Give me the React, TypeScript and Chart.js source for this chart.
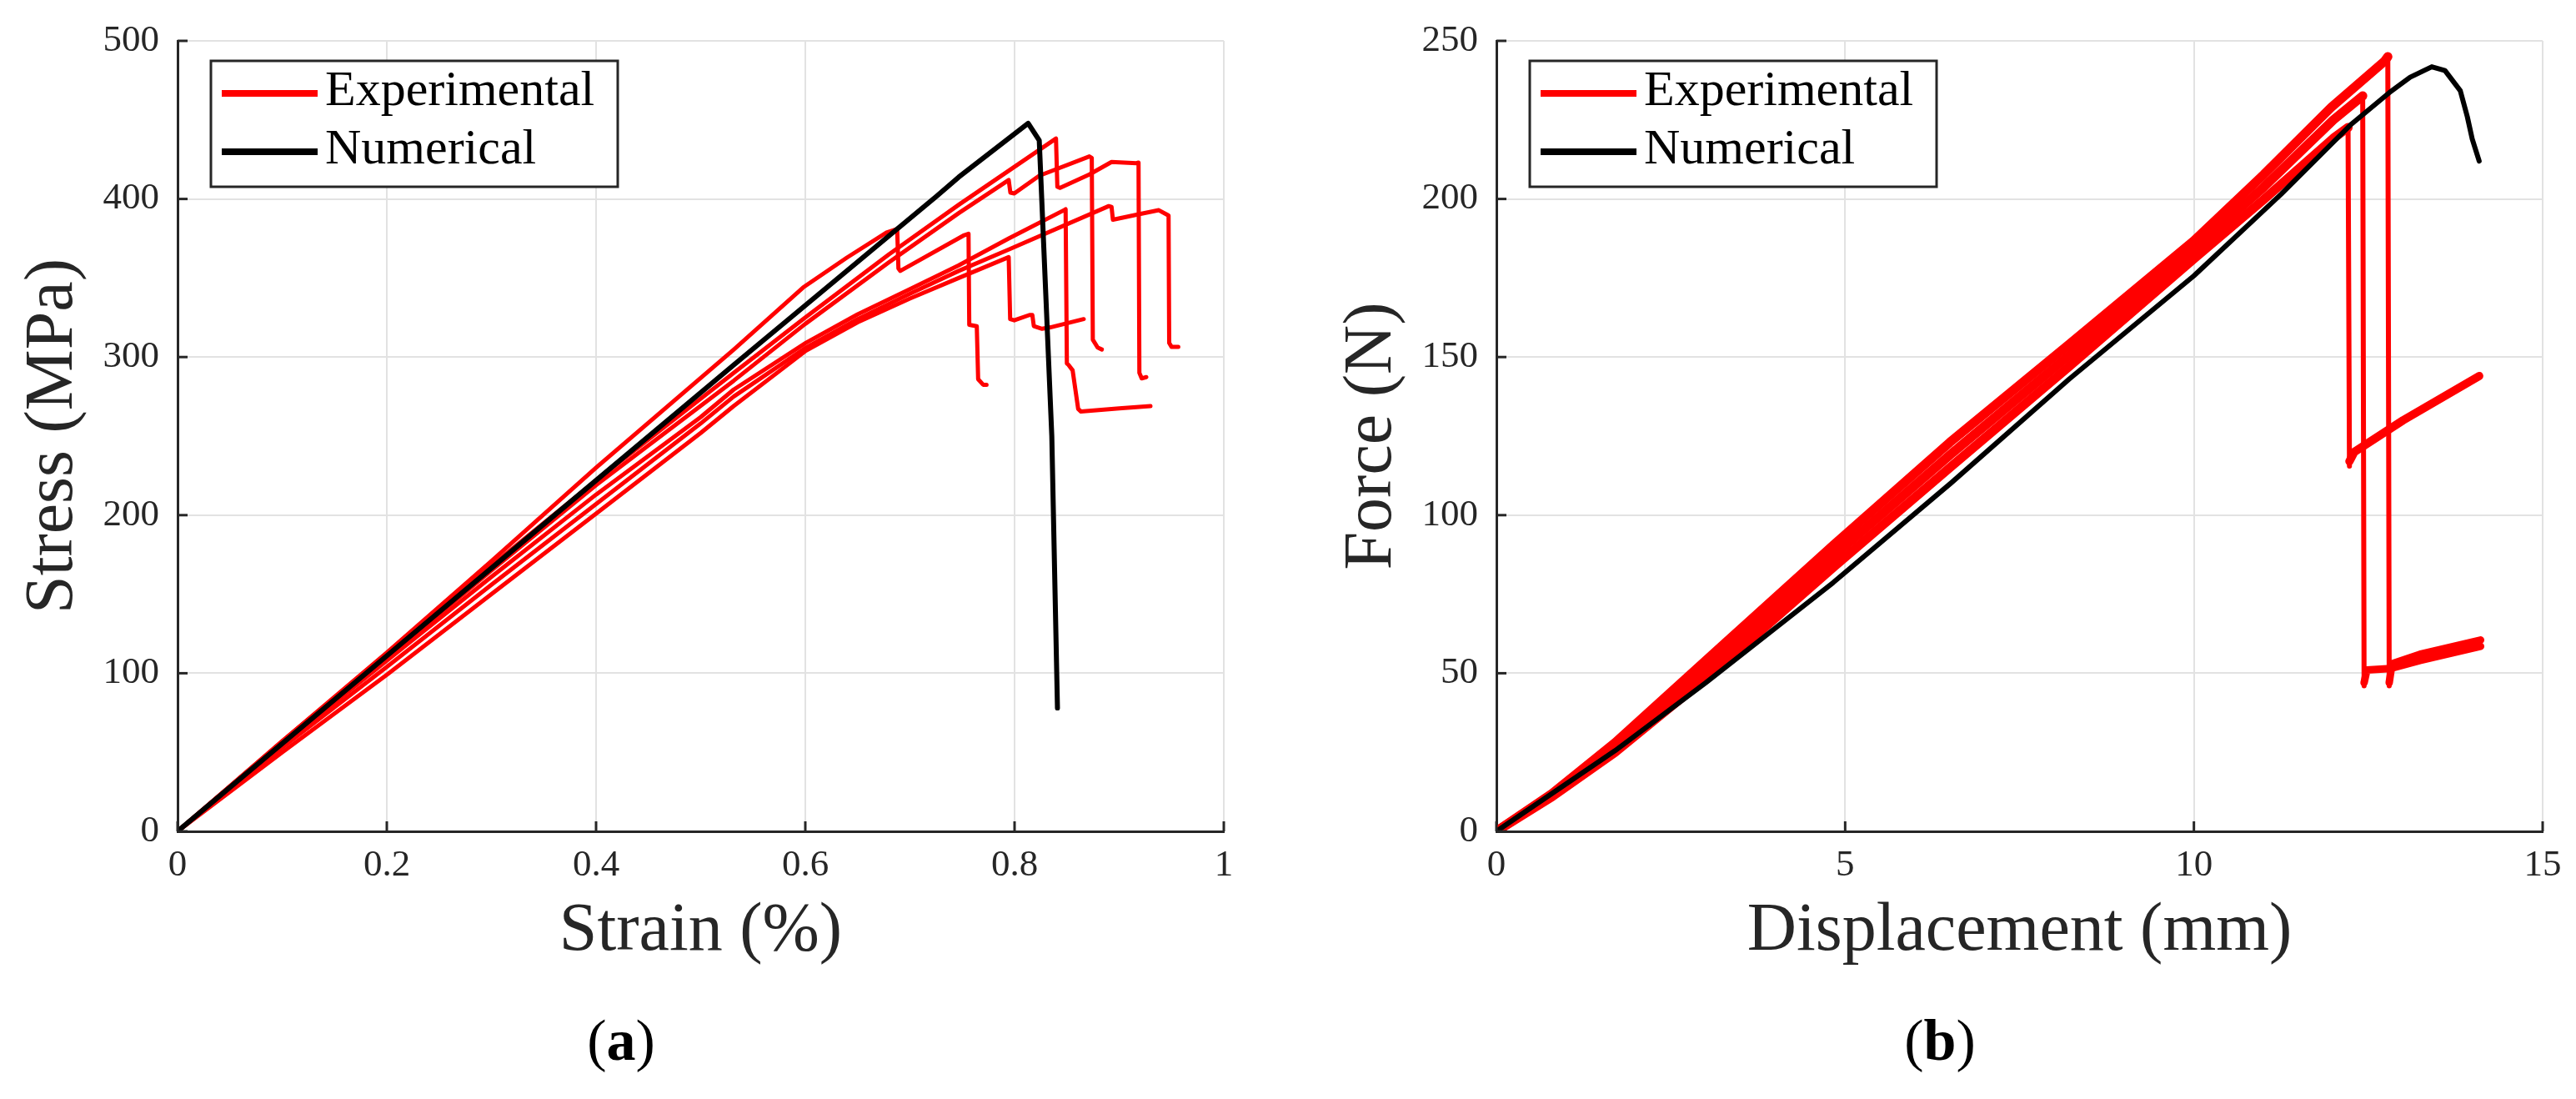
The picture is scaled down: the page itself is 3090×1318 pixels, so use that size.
import { useEffect, useRef } from "react";
import { Chart, registerables } from "chart.js";

Chart.register(...registerables);

// ---------------- (a) Stress vs strain ----------------
const strainTicks = [0, 0.2, 0.4, 0.6, 0.8, 1];
const stressTicks = [0, 100, 200, 300, 400, 500];

const strainNum = [0, 0.2, 0.4, 0.5315, 0.7253, 0.7466, 0.813, 0.8236, 0.8356, 0.841];
const stressNum = [0, 111, 222, 295, 401.6, 413.8, 447.8, 437, 250, 78];

const strainExpA = [0, 0.1, 0.2, 0.3, 0.4, 0.5315, 0.6, 0.68, 0.7466, 0.8396, 0.8409, 0.8436, 0.8715, 0.8927, 0.9166, 0.9185, 0.9193, 0.9215, 0.9259];
const stressExpA = [0, 57, 112, 168, 222, 290, 325, 365, 396.3, 438.2, 407.7, 407, 415.5, 423.4, 422.6, 423, 290, 286.5, 287.3];

const strainExpB = [0, 0.1, 0.2, 0.3, 0.4, 0.5315, 0.6, 0.68, 0.7466, 0.7944, 0.796, 0.7997, 0.8236, 0.8715, 0.8738, 0.8748, 0.8794, 0.8834];
const stressExpB = [0, 56, 110, 165, 219, 285, 321, 360, 391, 412, 404, 403.5, 414.7, 426.9, 426, 311, 306, 304.8];

const strainExpC = [0, 0.1, 0.2, 0.3, 0.4, 0.5315, 0.5979, 0.64, 0.6776, 0.6878, 0.689, 0.6908, 0.7519, 0.756, 0.7567, 0.7639, 0.7652, 0.77, 0.7732];
const stressExpC = [0, 57, 113, 171, 230, 304.7, 344, 363, 378.8, 381, 356, 354.5, 377.1, 378, 320.4, 319.5, 286, 282.5, 282.5];

const strainExpD = [0, 0.1, 0.2, 0.3, 0.4, 0.5, 0.5315, 0.6006, 0.65, 0.7, 0.7466, 0.7944, 0.8475, 0.8488, 0.85, 0.8515, 0.8555, 0.8608, 0.8635, 0.9, 0.9299];
const stressExpD = [0, 55, 108, 161, 213, 262, 279.4, 309, 327, 343, 358, 375, 393, 393.5, 296, 295.1, 291.6, 267.2, 265.5, 267.5, 269];

const strainExpE = [0, 0.1, 0.2, 0.3, 0.4, 0.5, 0.5315, 0.6006, 0.65, 0.7, 0.7466, 0.7944, 0.7958, 0.7997, 0.8143, 0.817, 0.8184, 0.8263, 0.8343, 0.8661];
const stressExpE = [0, 50, 99, 150, 201, 252, 269, 304, 322, 337, 350, 363.2, 324, 323.2, 326.6, 326.6, 319.6, 317.9, 318.8, 324];

const strainExpF = [0, 0.1, 0.2, 0.3, 0.4, 0.5, 0.5315, 0.6006, 0.65, 0.7, 0.7466, 0.7944, 0.8901, 0.8927, 0.894, 0.9166, 0.9379, 0.9458, 0.9472, 0.9478, 0.95, 0.9565];
const stressExpF = [0, 53, 104, 156, 207, 258, 275, 306, 324, 340, 354.5, 368, 395.5, 395, 386.9, 390, 392.9, 390, 389.5, 309, 306.5, 306.5];

// ---------------- (b) Force vs displacement ----------------
const dispTicks = [0, 5, 10, 15];
const forceTicks = [0, 50, 100, 150, 200, 250];

const dispNum = [0, 1.7, 3.0, 4.83, 6.52, 8.21, 10.0, 11.25, 12.26, 12.8, 13.1, 13.41, 13.6, 13.82, 13.92, 13.99, 14.09];
const forceNum = [0, 25.5, 47, 78.7, 110.2, 143, 175.7, 201.5, 223.7, 233.6, 238.5, 241.8, 240.6, 234.2, 226, 219, 212];

// specimen 1 (highest peak)
const dispExp1Rise = [0, 0.8, 1.7, 3.2, 4.83, 6.5, 8.21, 10, 11, 11.97, 12.73, 12.78];
const forceExp1Rise = [0, 12, 28, 58, 90.5, 123, 154, 186.8, 207.7, 229, 243.5, 245];
const dispExp1Drop = [12.78, 12.8];
const forceExp1Drop = [245, 46];
const dispExp1Post = [12.8, 12.84, 13.24, 14.11];
const forceExp1Post = [47, 53, 56, 60.5];

// specimen 2
const dispExp2Rise = [0, 0.8, 1.7, 3.2, 4.83, 6.5, 8.21, 10, 11, 12, 12.42];
const forceExp2Rise = [0, 11.5, 26.5, 55, 87, 119, 150.5, 184, 203.7, 225, 232.6];
const dispExp2Drop = [12.42, 12.44];
const forceExp2Drop = [232.6, 46];
const dispExp2Post = [12.44, 12.48, 12.82, 13.24, 14.11];
const forceExp2Post = [47, 51, 51.5, 54, 58.5];

// specimen 3
const dispExp3Rise = [0, 0.8, 1.7, 3.2, 4.83, 6.5, 8.21, 10, 11, 12, 12.21];
const forceExp3Rise = [0, 11, 25, 52, 83.5, 115, 147, 181.1, 199.8, 219.2, 222.6];
const dispExp3Drop = [12.21, 12.23];
const forceExp3Drop = [222.6, 115.5];
const dispExp3Post = [12.23, 12.3, 13.0, 14.09];
const forceExp3Post = [117, 120, 130, 144];

// ---------------- styling ----------------
const FONT = '"Liberation Serif", "Times New Roman", serif';
const AXIS = "#262626";
const GRID = "#e2e2e2";
const RED = "#ff0000";
const BLACK = "#000000";

const pts = (xs: number[], ys: number[]) => xs.map((x, i) => ({ x, y: ys[i] }));

const line = (xs: number[], ys: number[], color: string, width: number) => ({
  data: pts(xs, ys),
  borderColor: color,
  backgroundColor: color,
  borderWidth: width,
  pointRadius: 0,
  tension: 0,
  fill: false,
  borderJoinStyle: "round" as const,
  borderCapStyle: "round" as const,
});

function decorPlugin(o: { xTitle: string; yTitle: string; letter: string }) {
  return {
    id: "decor" + o.letter,
    afterDraw(chart: any) {
      const { ctx, chartArea: ca, scales } = chart;
      const xs = scales.x;
      const ys = scales.y;
      ctx.save();
      // inward tick marks
      ctx.strokeStyle = AXIS;
      ctx.lineWidth = 3;
      ctx.lineCap = "butt";
      xs.ticks.forEach((t: any) => {
        const px = xs.getPixelForValue(t.value);
        ctx.beginPath();
        ctx.moveTo(px, ca.bottom);
        ctx.lineTo(px, ca.bottom - 12);
        ctx.stroke();
      });
      ys.ticks.forEach((t: any) => {
        const py = ys.getPixelForValue(t.value);
        ctx.beginPath();
        ctx.moveTo(ca.left, py);
        ctx.lineTo(ca.left + 12, py);
        ctx.stroke();
      });

      // legend
      const bx = ca.left + 40;
      const by = ca.top + 24;
      const bw = 488;
      const bh = 151;
      ctx.fillStyle = "#ffffff";
      ctx.fillRect(bx, by, bw, bh);
      ctx.strokeStyle = AXIS;
      ctx.lineWidth = 3;
      ctx.strokeRect(bx, by, bw, bh);
      const rows = [
        { label: "Experimental", color: RED },
        { label: "Numerical", color: BLACK },
      ];
      rows.forEach((r, i) => {
        const base = by + 53 + i * 70;
        ctx.strokeStyle = r.color;
        ctx.lineWidth = 8;
        ctx.beginPath();
        ctx.moveTo(bx + 13, base - 14);
        ctx.lineTo(bx + 128, base - 14);
        ctx.stroke();
        ctx.fillStyle = "#000";
        ctx.font = `60px ${FONT}`;
        ctx.textAlign = "left";
        ctx.textBaseline = "alphabetic";
        ctx.fillText(r.label, bx + 137, base);
      });

      // axis titles
      ctx.fillStyle = AXIS;
      ctx.font = `82px ${FONT}`;
      ctx.textAlign = "center";
      ctx.textBaseline = "alphabetic";
      ctx.fillText(o.xTitle, (ca.left + ca.right) / 2, 1139);
      ctx.save();
      ctx.translate(ca.left - 127, (ca.top + ca.bottom) / 2);
      ctx.rotate(-Math.PI / 2);
      ctx.fillText(o.yTitle, 0, 0);
      ctx.restore();

      // caption (a)/(b)
      const reg = `70px ${FONT}`;
      const bold = `bold 70px ${FONT}`;
      ctx.fillStyle = "#000";
      ctx.font = reg;
      const wp = ctx.measureText("(").width;
      const wq = ctx.measureText(")").width;
      ctx.font = bold;
      const wl = ctx.measureText(o.letter).width;
      let x = (ca.left + ca.right) / 2 - 95.5 - (wp + wl + wq) / 2;
      const base = 1271;
      ctx.textAlign = "left";
      ctx.font = reg;
      ctx.fillText("(", x, base);
      x += wp;
      ctx.font = bold;
      ctx.fillText(o.letter, x, base);
      x += wl;
      ctx.font = reg;
      ctx.fillText(")", x, base);
      ctx.restore();
    },
  };
}

function makeConfig(opts: {
  datasets: any[];
  xMax: number;
  yMax: number;
  xTicks: number[];
  yTicks: number[];
  leftWidth: number;
  rightPad: number;
  xTitle: string;
  yTitle: string;
  letter: string;
}): any {
  const tickFont = { family: FONT, size: 45 };
  return {
    type: "line",
    data: { datasets: opts.datasets },
    options: {
      animation: false,
      responsive: false,
      devicePixelRatio: 1,
      layout: { padding: { left: 0, right: opts.rightPad, top: 42, bottom: 0 } },
      plugins: { legend: { display: false }, tooltip: { enabled: false } },
      scales: {
        x: {
          type: "linear",
          min: 0,
          max: opts.xMax,
          afterBuildTicks: (s: any) => {
            s.ticks = opts.xTicks.map((v) => ({ value: v }));
          },
          afterFit: (s: any) => {
            s.height = 321;
          },
          ticks: {
            font: tickFont,
            color: AXIS,
            padding: 14,
            maxRotation: 0,
            autoSkip: false,
            callback: (v: any) => String(v),
          },
          grid: { color: GRID, lineWidth: 2, drawTicks: false },
          border: { display: true, color: AXIS, width: 3 },
        },
        y: {
          type: "linear",
          min: 0,
          max: opts.yMax,
          afterBuildTicks: (s: any) => {
            s.ticks = opts.yTicks.map((v) => ({ value: v }));
          },
          afterFit: (s: any) => {
            s.width = opts.leftWidth;
          },
          ticks: {
            font: tickFont,
            color: AXIS,
            padding: 22,
            autoSkip: false,
            callback: (v: any) => String(v),
          },
          grid: { color: GRID, lineWidth: 2, drawTicks: false },
          border: { display: true, color: AXIS, width: 3 },
        },
      },
    },
    plugins: [decorPlugin({ xTitle: opts.xTitle, yTitle: opts.yTitle, letter: opts.letter })],
  };
}

export default function App() {
  const leftRef = useRef<HTMLCanvasElement>(null);
  const rightRef = useRef<HTMLCanvasElement>(null);

  useEffect(() => {
    const leftChart = new Chart(
      leftRef.current as HTMLCanvasElement,
      makeConfig({
        datasets: [
          line(strainNum, stressNum, BLACK, 6),
          line(strainExpA, stressExpA, RED, 5),
          line(strainExpB, stressExpB, RED, 5),
          line(strainExpC, stressExpC, RED, 5),
          line(strainExpD, stressExpD, RED, 5),
          line(strainExpE, stressExpE, RED, 5),
          line(strainExpF, stressExpF, RED, 5),
        ],
        xMax: 1,
        yMax: 500,
        xTicks: strainTicks,
        yTicks: stressTicks,
        leftWidth: 213,
        rightPad: 77,
        xTitle: "Strain (%)",
        yTitle: "Stress (MPa)",
        letter: "a",
      })
    );
    const rightChart = new Chart(
      rightRef.current as HTMLCanvasElement,
      makeConfig({
        datasets: [
          line(dispNum, forceNum, BLACK, 6),
          line(dispExp1Rise, forceExp1Rise, RED, 11),
          line(dispExp1Drop, forceExp1Drop, RED, 6),
          line(dispExp1Post, forceExp1Post, RED, 9),
          line(dispExp2Rise, forceExp2Rise, RED, 11),
          line(dispExp2Drop, forceExp2Drop, RED, 6),
          line(dispExp2Post, forceExp2Post, RED, 9),
          line(dispExp3Rise, forceExp3Rise, RED, 11),
          line(dispExp3Drop, forceExp3Drop, RED, 6),
          line(dispExp3Post, forceExp3Post, RED, 10),
        ],
        xMax: 15,
        yMax: 250,
        xTicks: dispTicks,
        yTicks: forceTicks,
        leftWidth: 250,
        rightPad: 40,
        xTitle: "Displacement (mm)",
        yTitle: "Force (N)",
        letter: "b",
      })
    );
    return () => {
      leftChart.destroy();
      rightChart.destroy();
    };
  }, []);

  return (
    <div
      style={{
        position: "absolute",
        left: 0,
        top: 0,
        width: 3090,
        height: 1318,
        background: "#ffffff",
        overflow: "hidden",
      }}
    >
      <canvas
        ref={leftRef}
        width={1545}
        height={1318}
        style={{ position: "absolute", left: 0, top: 0, width: 1545, height: 1318 }}
      />
      <canvas
        ref={rightRef}
        width={1545}
        height={1318}
        style={{ position: "absolute", left: 1545, top: 0, width: 1545, height: 1318 }}
      />
    </div>
  );
}
